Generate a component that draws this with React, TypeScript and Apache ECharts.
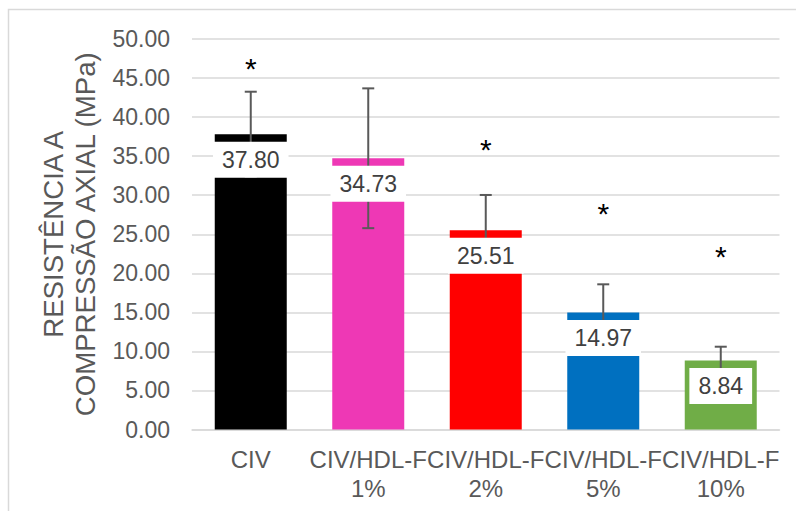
import React, { useEffect, useRef } from "react";
import * as echarts from "echarts";

const categories = ["CIV", "CIV/HDL-F\n1%", "CIV/HDL-F\n2%", "CIV/HDL-F\n5%", "CIV/HDL-F\n10%"];
const means = [37.8, 34.73, 25.51, 14.97, 8.84];
const sds = [5.45, 8.95, 4.52, 3.62, 1.76];
const barColors = ["#000000", "#EE38B5", "#FF0000", "#0070C0", "#70AD47"];
const asteriskY: (number | null)[] = [47.1, null, 36.7, 28.5, 23.0];
const yTicks = { min: 0, max: 50, interval: 5 };

const FONT = "'Liberation Sans', Arial, sans-serif";

export default function App() {
  const ref = useRef<HTMLDivElement>(null);
  useEffect(() => {
    if (!ref.current) return;
    const chart = echarts.init(ref.current, undefined, { renderer: "svg" });
    chart.setOption({
      animation: false,
      textStyle: { fontFamily: FONT },
      grid: { left: 192, right: 16.5, top: 39, bottom: 81.5, containLabel: false },
      graphic: [
        {
          type: "rect",
          shape: { x: 8.5, y: 9.5, width: 820, height: 540 },
          style: { fill: "none", stroke: "#d9d9d9", lineWidth: 1.5 },
          silent: true,
        },
      ],
      xAxis: {
        type: "category",
        data: categories,
        axisLine: { lineStyle: { color: "#d9d9d9", width: 1.5 } },
        axisTick: { show: false },
        axisLabel: {
          interval: 0,
          fontSize: 24,
          lineHeight: 29,
          color: "#595959",
          margin: 15,
          fontFamily: FONT,
        },
      },
      yAxis: {
        type: "value",
        min: yTicks.min,
        max: yTicks.max,
        interval: yTicks.interval,
        name: "RESISTÊNCIA A\nCOMPRESSÃO AXIAL (MPa)",
        nameLocation: "middle",
        nameGap: 85,
        nameTextStyle: { fontSize: 27.6, lineHeight: 32, color: "#595959", fontFamily: FONT },
        axisLine: { show: false },
        axisTick: { show: false },
        splitLine: { lineStyle: { color: "#d9d9d9", width: 1.5 } },
        axisLabel: {
          fontSize: 23,
          color: "#595959",
          margin: 22,
          fontFamily: FONT,
          formatter: (v: number) => v.toFixed(2),
        },
      },
      series: [
        {
          type: "bar",
          z: 2,
          barWidth: 72,
          data: means.map((v, i) => ({ value: v, itemStyle: { color: barColors[i] } })),
        },
        {
          type: "custom",
          z: 3,
          data: means.map((v, i) => [i, v, sds[i]]),
          renderItem: (params: any, api: any) => {
            const idx = api.value(0);
            const m = api.value(1);
            const s = api.value(2);
            const top = api.coord([idx, m + s]);
            const bot = api.coord([idx, m - s]);
            const style = { stroke: "#595959", lineWidth: 2 };
            return {
              type: "group",
              children: [
                { type: "line", shape: { x1: top[0], y1: top[1], x2: bot[0], y2: bot[1] }, style },
                { type: "line", shape: { x1: top[0] - 6, y1: top[1], x2: top[0] + 6, y2: top[1] }, style },
                { type: "line", shape: { x1: bot[0] - 6, y1: bot[1], x2: bot[0] + 6, y2: bot[1] }, style },
              ],
            };
          },
        },
        {
          type: "scatter",
          z: 4,
          symbolSize: 0,
          itemStyle: { opacity: 1 },
          data: means.map((v, i) => [i, v]),
          label: {
            show: true,
            position: "inside",
            offset: [0, 25.5],
            formatter: (p: any) => p.value[1].toFixed(2),
            fontSize: 23,
            lineHeight: 28,
            color: "#404040",
            backgroundColor: "#ffffff",
            padding: [4, 9],
            fontFamily: FONT,
          },
        },
        {
          type: "scatter",
          z: 4,
          symbolSize: 0,
          itemStyle: { opacity: 1 },
          data: asteriskY.map((v, i) => (v == null ? [i, "-"] : [i, v])),
          label: {
            show: true,
            position: "inside",
            offset: [0, 7],
            formatter: "*",
            fontSize: 30,
            color: "#000000",
            fontFamily: FONT,
          },
        },
      ],
    });
    return () => chart.dispose();
  }, []);
  return (
    <div
      ref={ref}
      style={{ position: "fixed", left: 0, top: 0, width: 796, height: 511, background: "#fff" }}
    />
  );
}
